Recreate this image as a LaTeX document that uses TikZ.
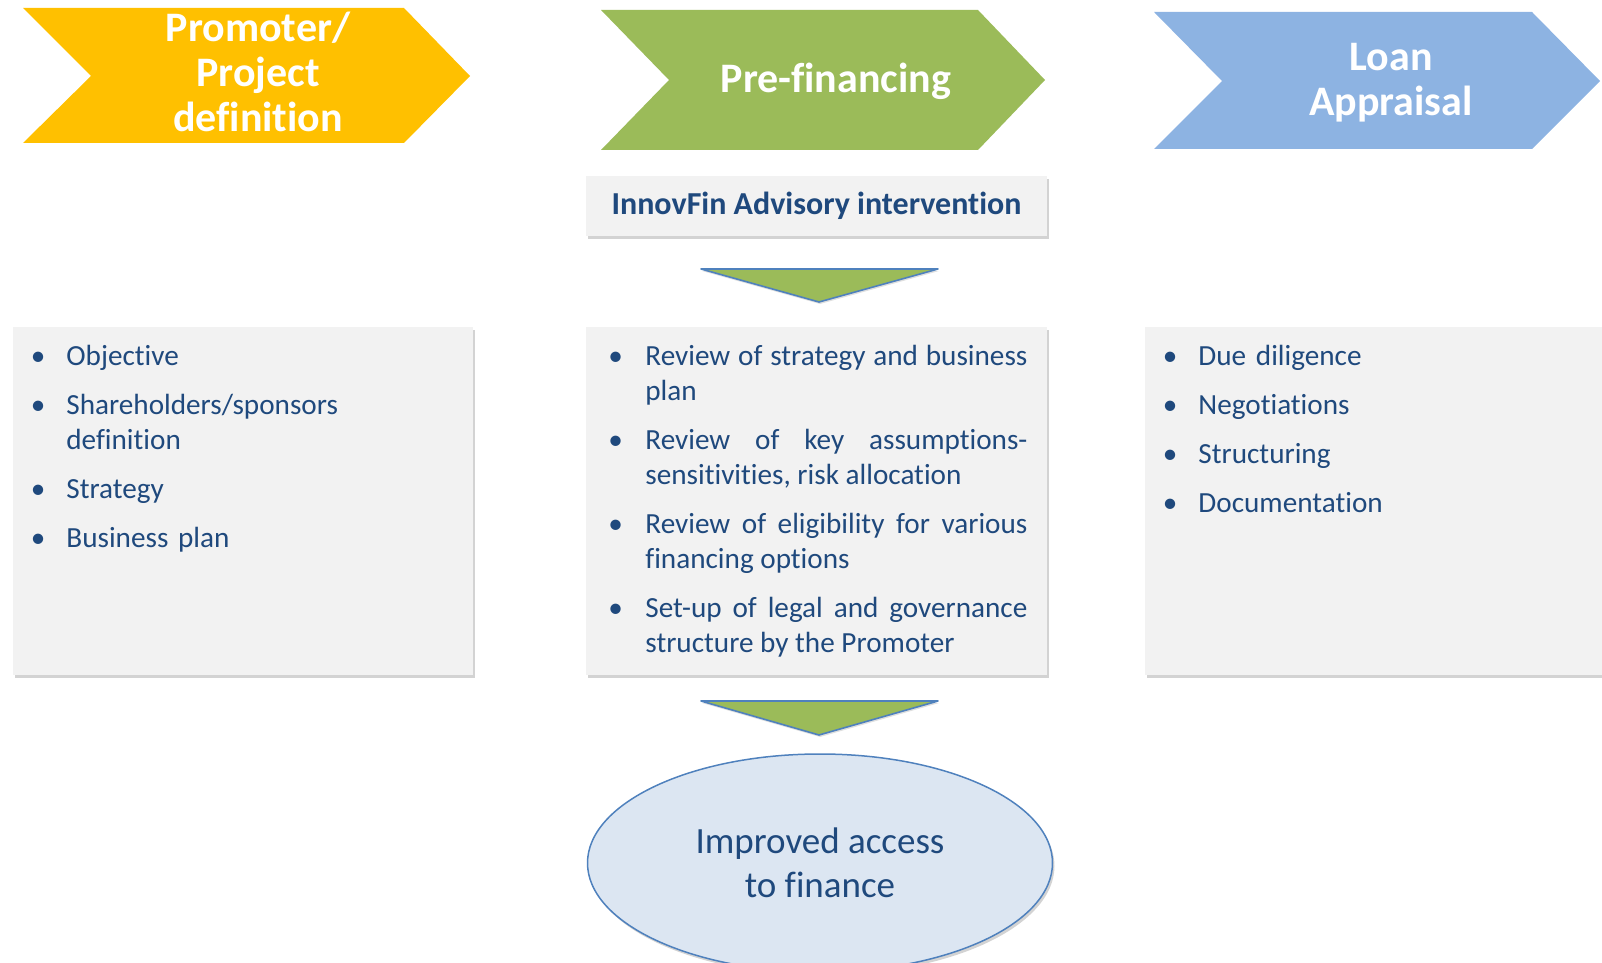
\documentclass[tikz,border=0pt]{standalone}
\usepackage{fontspec}
\setmainfont[Ligatures=NoCommon]{Carlito}
\usepackage{enumitem}
\usetikzlibrary{shapes.geometric,shadows}

\definecolor{phaseyellow}{HTML}{FFC000}
\definecolor{phasegreen}{HTML}{9BBB59}
\definecolor{phaseblue}{HTML}{8DB3E2}
\definecolor{textblue}{HTML}{1F497D}
\definecolor{panelgray}{HTML}{F2F2F2}
\definecolor{edgeblue}{HTML}{4F81BD}
\definecolor{ovalfill}{HTML}{DCE6F2}

\setlist[itemize]{label=\textbullet, leftmargin=26.5pt, labelwidth=0pt, labelsep=10.5pt,
  itemindent=0pt, topsep=0pt, partopsep=0pt, parsep=0pt, itemsep=7pt}

\tikzset{
  phasetext/.style={text=white, align=center, font=\bfseries\fontsize{21}{22.5}\selectfont},
  panel/.style={fill=panelgray, inner sep=0pt,
    drop shadow={shadow xshift=1pt, shadow yshift=-1.5pt, opacity=0.35}},
  bulletlist/.style={anchor=north west, inner sep=0pt, text=textblue,
    font=\fontsize{14.6}{17.5}\selectfont},
  downwedge/.style={fill=phasegreen, draw=edgeblue, line width=0.8pt, line join=round,
    drop shadow={shadow xshift=0.5pt, shadow yshift=-1pt, opacity=0.25}},
  goaloval/.style={ellipse, fill=ovalfill, draw=edgeblue, line width=0.75pt,
    text=textblue, align=center, font=\fontsize{18.5}{22}\selectfont,
    drop shadow={shadow xshift=1pt, shadow yshift=-1.5pt, opacity=0.35}}
}

\begin{document}
\begin{tikzpicture}[x=0.5pt,y=-0.5pt]
\useasboundingbox (0,0) rectangle (1602,963);
\clip (0,0) rectangle (1602,963);

% phases
\fill[phaseyellow] (23,8) -- (404,8) -- (470,76) -- (404,143) -- (23,143) -- (91,76) -- cycle;
\fill[phasegreen] (601,10) -- (978,10) -- (1045,80) -- (978,150) -- (601,150) -- (669,80) -- cycle;
\fill[phaseblue] (1154,12) -- (1532,12) -- (1600,81) -- (1532,149) -- (1154,149) -- (1222,81) -- cycle;
\node[phasetext] (promoter) at (258,72) {Promoter/\\Project\\definition};
\node[phasetext] (prefin) at (836,81) {Pre-financing};
\node[phasetext] (appraisal) at (1391,83) {Loan\\Appraisal};

% advisory
\node[panel, minimum width=230.5pt, minimum height=30pt, text=textblue,
  font=\bfseries\fontsize{16}{19}\selectfont] (advisory) at (816.5,206) {InnovFin Advisory intervention};
\draw[downwedge] (701,269) -- (938,269) -- (819,302) -- cycle;

% panels
\node[panel, minimum width=230pt, minimum height=174pt] (leftpanel) at (243,501) {};
\node[panel, minimum width=230.5pt, minimum height=174pt] (midpanel) at (816.5,501) {};
\node[panel, minimum width=233pt, minimum height=174pt] (rightpanel) at (1378,501) {};

\node[bulletlist, text width=200pt] (leftlist) at (13,330) {%
\begin{itemize}
\item Objective
\item Shareholders/sponsors\newline definition
\item Strategy
\item Business plan
\end{itemize}};
\node[bulletlist, text width=220.5pt, align=justify] (midlist) at (586,330) {%
\hyphenpenalty=10000
\begin{itemize}[leftmargin=29.5pt, labelsep=11.3pt]
\item Review of strategy and business \linebreak plan
\item Review of key assumptions-\linebreak sensitivities, risk allocation
\item Review of eligibility for various \linebreak financing options
\item Set-up of legal and governance \linebreak structure by the Promoter
\end{itemize}};
\node[bulletlist, text width=200pt] (rightlist) at (1145,330) {%
\begin{itemize}
\item Due diligence
\item Negotiations
\item Structuring
\item Documentation
\end{itemize}};

% result
\draw[downwedge] (701,701) -- (938,701) -- (819,735) -- cycle;
\node[goaloval, minimum width=232.5pt, minimum height=109pt] (access) at (820,863) {Improved access\\to finance};
\end{tikzpicture}
\end{document}
